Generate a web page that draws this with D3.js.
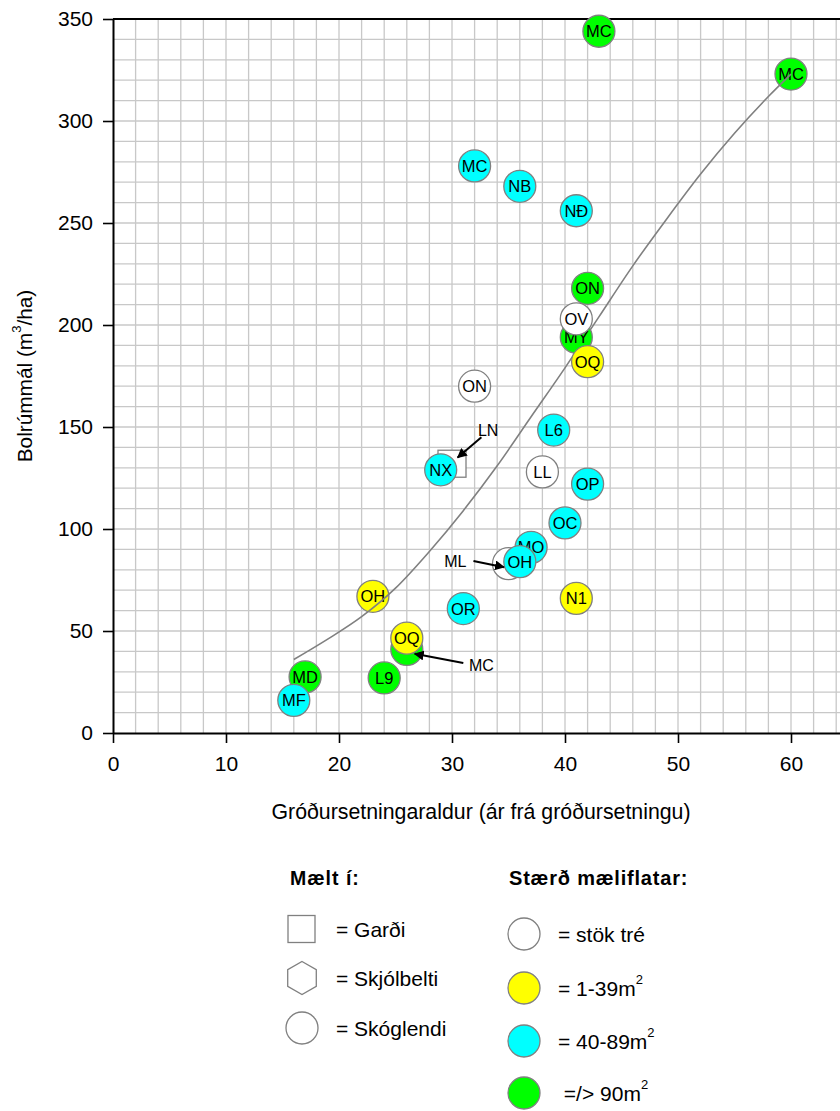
<!DOCTYPE html>
<html>
<head>
<meta charset="utf-8">
<script src="https://cdn.jsdelivr.net/npm/d3@7"></script>
<style>
  body { margin: 0; background: white; }
  text { font-family: "Liberation Sans", Arial, sans-serif; }
</style>
</head>
<body>
<div id="mydiv"></div>
<script>
// data
var labels  = ["MC","MC","MC","NB","NĐ","ON","ON","LL","OP","OC","L6","NX","ML","MO","OH","N1","OR","OH","MC","OQ","MD","L9","MF","MY","OV","OQ"];
var ages    = [43, 60, 32, 36, 41, 42, 32, 38, 42, 40, 39, 29, 35, 37, 36, 41, 31, 23, 26, 26, 17, 24, 16, 41, 41, 42];
var volumes = [344, 323, 278, 268, 256, 218, 170, 128, 122, 103, 148.5, 129, 83, 91, 84, 66, 61, 67, 41, 46.5, 27.5, 27, 16, 194, 203, 182];
// 0 = stök tré, 1 = 1-39m2, 2 = 40-89m2, 3 = >=90m2
var sizeClass = [3, 3, 2, 2, 2, 3, 0, 0, 2, 2, 2, 2, 0, 2, 2, 1, 2, 1, 3, 1, 3, 3, 2, 3, 0, 1];
// drawn over the trend line or under it
var overLine  = [0, 0, 0, 0, 0, 0, 0, 0, 0, 0, 0, 0, 0, 0, 0, 0, 0, 0, 0, 0, 0, 0, 0, 1, 1, 1];
// hide the text for points that get a label with an arrow
var showText  = [1, 1, 1, 1, 1, 1, 1, 1, 1, 1, 1, 1, 0, 1, 1, 1, 1, 1, 0, 1, 1, 1, 1, 1, 1, 1];

// measured in a garden (square)
var gardenAge = [30];
var gardenVol = [132];

// trend line points
var trendX = [16, 19, 22, 25, 28, 31, 34, 37, 40, 43, 46, 49, 52, 55, 58, 60];
var trendY = [36, 46, 57, 71, 89, 109, 131, 155, 179, 204, 229, 252, 274, 294, 312, 323];

// labels with arrows (data units)
var annText  = ["LN", "ML", "MC"];
var annTx    = [33.2, 30.3, 32.6];
var annTy    = [148.5, 84, 33.3];
var annFromX = [32.6, 31.9, 31.0];
var annFromY = [145, 84.3, 34.3];
var annToX   = [30.5, 34.6, 26.7];
var annToY   = [135, 81.3, 38.8];

var xTicks = [0, 10, 20, 30, 40, 50, 60];
var yTicks = [0, 50, 100, 150, 200, 250, 300, 350];

var sizeColors = ["white", "#ffff00", "#00ffff", "#00ff00"];
var sizeNames  = ["= stök tré", "= 1-39m", "= 40-89m", " =/> 90m"];
var siteNames  = ["= Garði", "= Skjólbelti", "= Skóglendi"];

var margin = {top: 19, left: 113},
    plotW = 791, plotH = 714;

var svg = d3.select("#mydiv").append("svg")
  .attr("width", 840)
  .attr("height", 1111)
  .style("background-color", "white");

var x = d3.scaleLinear().domain([0, 70]).range([margin.left, margin.left + plotW]);
var y = d3.scaleLinear().domain([0, 350]).range([margin.top + plotH, margin.top]);

svg.append("defs").append("marker")
  .attr("id", "arrow")
  .attr("viewBox", "0 0 10 10")
  .attr("refX", 9).attr("refY", 5)
  .attr("markerWidth", 5).attr("markerHeight", 5)
  .attr("orient", "auto")
  .append("path").attr("d", "M0,0 L10,5 L0,10 z").attr("fill", "black");

// grid
var g = svg.append("g");
g.selectAll(".vgrid")
  .data(d3.range(2, 71, 2))
  .enter().append("line")
  .attr("x1", function(d) { return x(d); }).attr("x2", function(d) { return x(d); })
  .attr("y1", y(350)).attr("y2", y(0))
  .attr("stroke", "#c8c8c8").attr("stroke-width", 1.3);
g.selectAll(".hgrid")
  .data(d3.range(10, 350, 10))
  .enter().append("line")
  .attr("x1", x(0)).attr("x2", x(70))
  .attr("y1", function(d) { return y(d); }).attr("y2", function(d) { return y(d); })
  .attr("stroke", "#c8c8c8").attr("stroke-width", 1.3);

// top border
svg.append("line")
  .attr("x1", x(0)).attr("x2", x(70))
  .attr("y1", y(350)).attr("y2", y(350))
  .attr("stroke", "black").attr("stroke-width", 2);

// axes
var xAxis = svg.append("g")
  .attr("transform", "translate(0," + y(0) + ")")
  .call(d3.axisBottom(x).tickValues(xTicks).tickSize(10).tickPadding(13).tickSizeOuter(0));
var yAxis = svg.append("g")
  .attr("transform", "translate(" + x(0) + ",0)")
  .call(d3.axisLeft(y).tickValues(yTicks).tickSize(10).tickPadding(10).tickSizeOuter(0));
[xAxis, yAxis].forEach(function(a) {
  a.selectAll("path").attr("stroke", "black").attr("stroke-width", 2);
  a.selectAll("line").attr("stroke", "black").attr("stroke-width", 1.6);
  a.selectAll("text").attr("font-family", "Liberation Sans, Arial").attr("font-size", 21).attr("fill", "black");
});

// axis titles
svg.append("text")
  .attr("x", 481).attr("y", 812)
  .attr("text-anchor", "middle").attr("dominant-baseline", "central")
  .attr("font-size", 21.3)
  .text("Gróðursetningaraldur (ár frá gróðursetningu)");
var yt = svg.append("text")
  .attr("transform", "translate(24," + y(175) + ") rotate(-90)")
  .attr("text-anchor", "middle").attr("dominant-baseline", "central")
  .attr("font-size", 20.8);
yt.append("tspan").text("Bolrúmmál (m");
yt.append("tspan").attr("font-size", 13).attr("dy", -8).text("3");
yt.append("tspan").attr("dy", 8).text("/ha)");

var pts = d3.range(labels.length).map(function(i) {
  return {label: labels[i], age: ages[i], vol: volumes[i], cls: sizeClass[i], over: overLine[i], show: showText[i]};
});

// garden square
svg.selectAll(".garden")
  .data(gardenAge)
  .enter().append("rect")
  .attr("x", function(d) { return x(d) - 14; })
  .attr("y", function(d, i) { return y(gardenVol[i]) - 13.5; })
  .attr("width", 28).attr("height", 27)
  .attr("fill", "white").attr("stroke", "#808080").attr("stroke-width", 1.3);

function drawPoints(list) {
  var pg = svg.append("g").selectAll("g").data(list).enter().append("g")
    .attr("transform", function(d) { return "translate(" + x(d.age) + "," + y(d.vol) + ")"; });
  pg.append("circle")
    .attr("r", 16)
    .attr("fill", function(d) { return sizeColors[d.cls]; })
    .attr("stroke", "#808080").attr("stroke-width", 1.3);
  pg.filter(function(d) { return d.show; }).append("text")
    .attr("text-anchor", "middle").attr("dominant-baseline", "central")
    .attr("font-size", 16.5)
    .text(function(d) { return d.label; });
}

drawPoints(pts.filter(function(d) { return !d.over; }));

// trend line
var trend = trendX.map(function(v, i) { return [v, trendY[i]]; });
svg.append("path")
  .datum(trend)
  .attr("fill", "none").attr("stroke", "#808080").attr("stroke-width", 1.6)
  .attr("d", d3.line()
    .x(function(d) { return x(d[0]); })
    .y(function(d) { return y(d[1]); })
    .curve(d3.curveMonotoneX));

drawPoints(pts.filter(function(d) { return d.over; }));

// arrow labels
annText.forEach(function(t, i) {
  svg.append("text")
    .attr("x", x(annTx[i])).attr("y", y(annTy[i]))
    .attr("text-anchor", "middle").attr("dominant-baseline", "central")
    .attr("font-size", 16).text(t);
  svg.append("line")
    .attr("x1", x(annFromX[i])).attr("y1", y(annFromY[i]))
    .attr("x2", x(annToX[i])).attr("y2", y(annToY[i]))
    .attr("stroke", "black").attr("stroke-width", 2)
    .attr("marker-end", "url(#arrow)");
});

// legend: site type
svg.append("text").attr("x", 290).attr("y", 878)
  .attr("dominant-baseline", "central").attr("font-size", 19.5).attr("font-weight", "bold")
  .attr("letter-spacing", 1).text("Mælt í:");
svg.append("text").attr("x", 509).attr("y", 878)
  .attr("dominant-baseline", "central").attr("font-size", 20).attr("font-weight", "bold")
  .attr("letter-spacing", 0.8).text("Stærð mæliflatar:");

var siteY = [929, 978, 1028];
svg.append("rect").attr("x", 288).attr("y", siteY[0] - 13.5).attr("width", 27).attr("height", 27)
  .attr("fill", "white").attr("stroke", "#808080").attr("stroke-width", 1.3);
var hex = d3.range(6).map(function(k) {
  var a = Math.PI / 3 * k - Math.PI / 2;
  return [302 + 16.5 * Math.cos(a), siteY[1] + 16.5 * Math.sin(a)];
});
svg.append("path").attr("d", "M" + hex.join("L") + "Z")
  .attr("fill", "white").attr("stroke", "#808080").attr("stroke-width", 1.3);
svg.append("circle").attr("cx", 302).attr("cy", siteY[2]).attr("r", 16)
  .attr("fill", "white").attr("stroke", "#808080").attr("stroke-width", 1.3);
svg.selectAll(".siteText").data(siteNames).enter().append("text")
  .attr("x", 336).attr("y", function(d, i) { return siteY[i]; })
  .attr("dominant-baseline", "central").attr("font-size", 21)
  .text(function(d) { return d; });

// legend: plot size
var sizeY = [934, 988, 1041, 1093];
svg.selectAll(".sizeDot").data(sizeColors).enter().append("circle")
  .attr("cx", 524).attr("cy", function(d, i) { return sizeY[i]; }).attr("r", 16)
  .attr("fill", function(d) { return d; })
  .attr("stroke", "#808080").attr("stroke-width", 1.3);
var st = svg.selectAll(".sizeText").data(sizeNames).enter().append("text")
  .attr("x", 558).attr("y", function(d, i) { return sizeY[i]; })
  .attr("dominant-baseline", "central").attr("font-size", 21)
  .attr("xml:space", "preserve");
st.append("tspan").text(function(d) { return d; });
st.filter(function(d, i) { return i > 0; }).append("tspan")
  .attr("font-size", 13).attr("dy", -9).text("2");
</script>
</body>
</html>
